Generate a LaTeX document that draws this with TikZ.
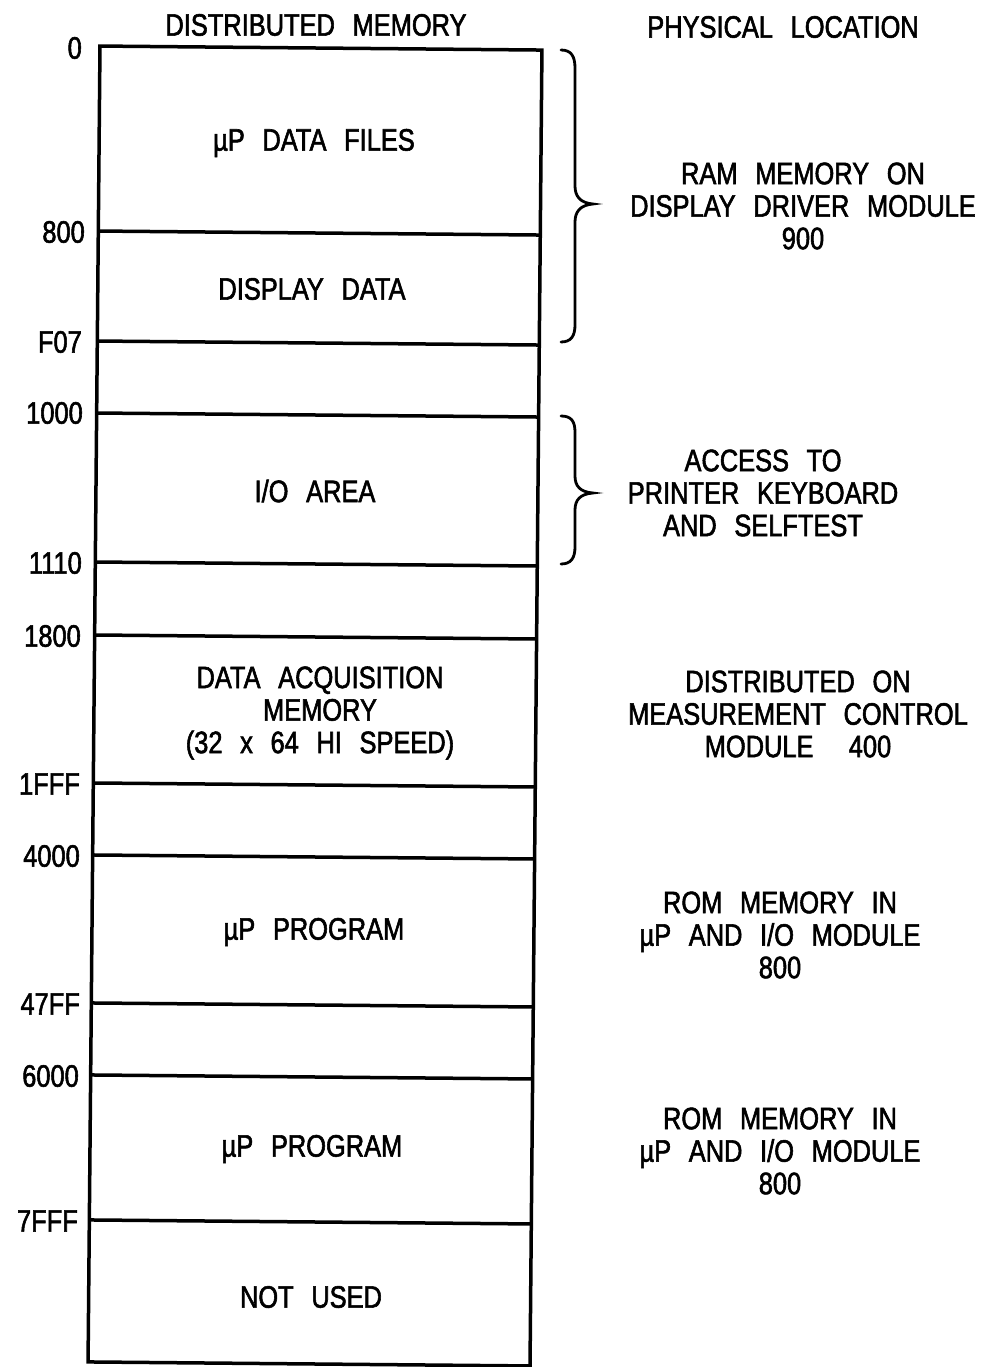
\documentclass[tikz,border=0pt]{standalone}
\usepackage{fontspec}
\newfontfamily\lblfam[FakeStretch=0.82,WordSpace=2.5,FakeBold=1.8]{Liberation Sans}
\newcommand\lblfont{\lblfam\fontsize{31}{32.5}\selectfont}
\begin{document}
\begin{tikzpicture}[x=1pt,y=-1pt,
  txt/.style={font=\lblfont,align=center,inner sep=0pt,anchor=center},
  addr/.style={font=\lblfont,inner sep=0pt,anchor=east},
  rule/.style={line width=3.5pt},
  bracestyle/.style={line width=2.8pt,line cap=round}]
\useasboundingbox (0,0) rectangle (984,1367);
% box (slightly skewed, as in the scan)
\begin{scope}[rotate around={-0.52:(316,706)}]
\draw[rule] (94,48) rectangle (536,1364);
\foreach \y in {233,343,415,564,637,785,857,1005,1077,1222}
  \draw[rule] (94,\y) -- (536,\y);
\end{scope}
% headings
\node[txt] (h1) at (316,25) {DISTRIBUTED MEMORY};
\node[txt] (h2) at (783,27) {PHYSICAL LOCATION};
% address labels
\node[addr] (a0) at (82,48) {0};
\node[addr] (a1) at (85,232) {800};
\node[addr] (a2) at (82,342) {F07};
\node[addr] (a3) at (83,413) {1000};
\node[addr] (a4) at (82,563) {1110};
\node[addr] (a5) at (81,636) {1800};
\node[addr] (a6) at (80,784) {1FFF};
\node[addr] (a7) at (80,856) {4000};
\node[addr] (a8) at (80,1004) {47FF};
\node[addr] (a9) at (79,1076) {6000};
\node[addr] (a10) at (78,1221) {7FFF};
% region texts
\node[txt] (r1) at (314,143) {µP DATA FILES};
\node[txt] (r2) at (312,289) {DISPLAY DATA};
\node[txt] (r3) at (315,491) {I/O AREA};
\node[txt] (r4) at (320,713) {DATA ACQUISITION\\MEMORY\\(32 x 64 HI SPEED)};
\node[txt] (r5) at (314,932) {µP PROGRAM};
\node[txt] (r6) at (312,1149) {µP PROGRAM};
\node[txt] (r7) at (311,1297) {NOT USED};
% physical location texts
\node[txt] (p1) at (803,206) {RAM MEMORY ON\\DISPLAY DRIVER MODULE\\900};
\node[txt] (p2) at (763,493) {ACCESS TO\\PRINTER KEYBOARD\\AND SELFTEST};
\node[txt] (p3) at (798,714) {DISTRIBUTED ON\\MEASUREMENT CONTROL\\MODULE\ \ 400};
\node[txt] (p4) at (780,935) {ROM MEMORY IN\\µP AND I/O MODULE\\800};
\node[txt] (p5) at (780,1151) {ROM MEMORY IN\\µP AND I/O MODULE\\800};
% braces
\draw[bracestyle] (561,50) .. controls (571,50) and (575,56) .. (575,68)
  -- (575,186) .. controls (575,196) and (580,203) .. (593,204)
  .. controls (580,205) and (575,212) .. (575,222)
  -- (575,325) .. controls (575,336) and (571,342) .. (561,342);
\draw[bracestyle] (561,416) .. controls (571,416) and (575,421) .. (575,432)
  -- (575,476) .. controls (575,486) and (580,492) .. (593,493)
  .. controls (580,494) and (575,500) .. (575,510)
  -- (575,547) .. controls (575,558) and (571,564) .. (561,564);
\end{tikzpicture}
\end{document}
